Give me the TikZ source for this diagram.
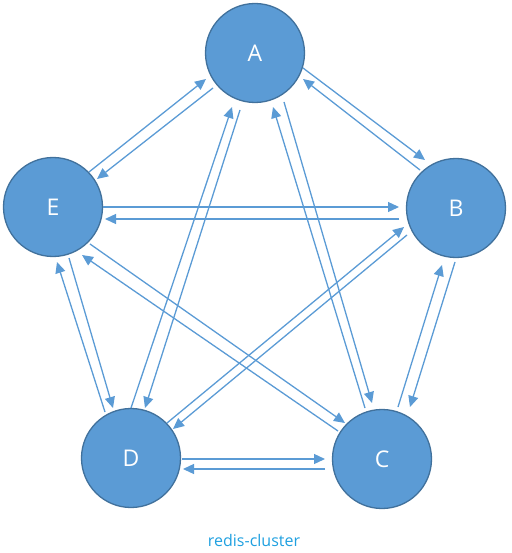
\documentclass[tikz,border=0pt]{standalone}
\usepackage{fontspec}
\setmainfont{Open Sans}
\usetikzlibrary{arrows.meta,calc}
\definecolor{nodefill}{HTML}{5B9BD5}
\definecolor{nodeline}{HTML}{41719C}
\definecolor{arrcol}{HTML}{5B9BD5}
\definecolor{capcol}{HTML}{1FA0E0}
\begin{document}
\begin{tikzpicture}[x=1pt,y=-1pt,
  nd/.style={circle,draw=nodeline,line width=1.3pt,fill=nodefill,minimum size=99pt,inner sep=0pt,text=white,font=\fontsize{23}{25}\selectfont},
  arr/.style={draw=arrcol,line width=1.3pt,-{Triangle[length=11pt,width=10pt]}}]
\useasboundingbox (0,0) rectangle (511,553);
\node[nd] (A) at (255,53) {A};
\node[nd] (B) at (456,208) {B};
\node[nd] (C) at (382,459) {C};
\node[nd] (D) at (131,458) {D};
\node[nd] (E) at (53,207) {E};
% A-B
\draw[arr] ($(A)+(48,15)$) -- ($(B)+(-31,-48)$);
\draw[arr] ($(B)+(-36,-38)$) -- ($(A)+(48,26)$);
% E-A
\draw[arr] ($(E)+(36,-35)$) -- ($(A)+(-49,26)$);
\draw[arr] ($(A)+(-42,35)$) -- ($(E)+(44,-28)$);
% E-B
\draw[arr] ($(E)+(50,0)$) -- ($(B)+(-57,-1)$);
\draw[arr] ($(B)+(-57,11)$) -- ($(E)+(52,12)$);
% E-C
\draw[arr] ($(E)+(37,37)$) -- ($(C)+(-37,-36)$);
\draw[arr] ($(C)+(-44,-28)$) -- ($(E)+(29,48)$);
% D-B
\draw[arr] ($(D)+(36,-35)$) -- ($(B)+(-52,19)$);
\draw[arr] ($(B)+(-49,27)$) -- ($(D)+(42,-29)$);
% D-E
\draw[arr] ($(D)+(-26,-46)$) -- ($(E)+(4,55)$);
\draw[arr] ($(E)+(16,51)$) -- ($(D)+(-18,-50)$);
% D-A
\draw[arr] ($(D)+(0,-50)$) -- ($(A)+(-23,54)$);
\draw[arr] ($(A)+(-15,57)$) -- ($(D)+(14,-50)$);
% C-A
\draw[arr] ($(C)+(-17,-51)$) -- ($(A)+(18,54)$);
\draw[arr] ($(A)+(29,49)$) -- ($(C)+(-10,-56)$);
% C-B
\draw[arr] ($(C)+(16,-52)$) -- ($(B)+(-14,57)$);
\draw[arr] ($(B)+(-1,54)$) -- ($(C)+(28,-52)$);
% D-C
\draw[arr] ($(D)+(51,1)$) -- ($(C)+(-57,0)$);
\draw[arr] ($(C)+(-57,10)$) -- ($(D)+(52,11)$);
\node[text=capcol,font=\fontsize{16}{18}\selectfont,anchor=base] (cap) at (254,546) {redis-cluster};
\end{tikzpicture}
\end{document}
